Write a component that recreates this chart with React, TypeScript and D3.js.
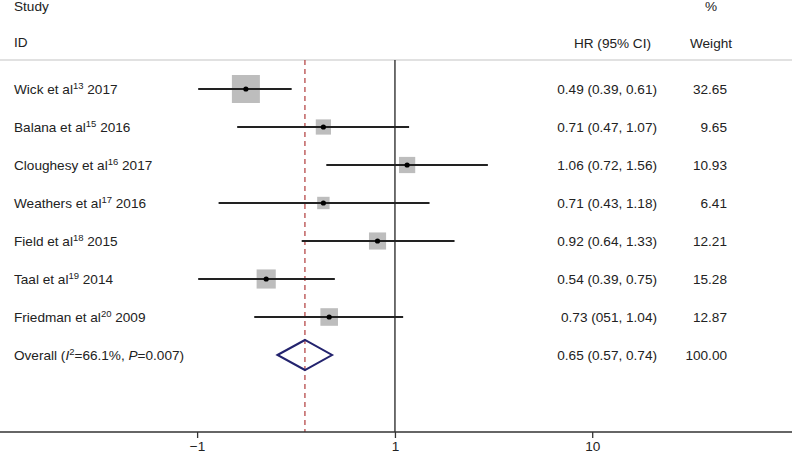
import React, { useEffect, useRef } from "react";
import * as d3 from "d3";

const authors = ["Wick et al", "Balana et al", "Cloughesy et al", "Weathers et al", "Field et al", "Taal et al", "Friedman et al"];
const refs = ["13", "15", "16", "17", "18", "19", "20"];
const years = ["2017", "2016", "2017", "2016", "2015", "2014", "2009"];
const hr = [0.49, 0.71, 1.06, 0.71, 0.92, 0.54, 0.73];
const lower = [0.39, 0.47, 0.72, 0.43, 0.64, 0.39, 0.51];
const upper = [0.61, 1.07, 1.56, 1.18, 1.33, 0.75, 1.04];
const weights = [32.65, 9.65, 10.93, 6.41, 12.21, 15.28, 12.87];
const ciText = ["0.49 (0.39, 0.61)", "0.71 (0.47, 1.07)", "1.06 (0.72, 1.56)", "0.71 (0.43, 1.18)", "0.92 (0.64, 1.33)", "0.54 (0.39, 0.75)", "0.73 (051, 1.04)"];
const weightText = ["32.65", "9.65", "10.93", "6.41", "12.21", "15.28", "12.87"];
const overall = { hr: 0.65, lo: 0.57, hi: 0.74, text: "0.65 (0.57, 0.74)", weight: "100.00" };
const tickValues = [0.388, 1, 2.57];
const tickLabels = ["\u22121", "1", "10"];

const W = 794;
const H = 454;
const FONT = "'Liberation Sans', Arial, sans-serif";
const FS = 13.6;
const SUP = 9.5;

export default function App() {
  const ref = useRef<SVGSVGElement | null>(null);

  useEffect(() => {
    const svg = d3.select(ref.current);
    svg.selectAll("*").remove();

    const x = d3.scaleLog().domain([Math.exp(-1.89), Math.exp(1.9)]).range([0, 792]);
    const y = d3.scaleLinear().domain([0, 7]).range([89, 355]);
    const size = d3.scaleSqrt().domain([0, 32.65]).range([0, 28]);

    const top = 60;
    const axisY = 432;
    const textColor = "#222";

    const hdr = svg.append("g").attr("font-family", FONT).attr("font-size", FS).attr("fill", textColor);
    hdr.append("text").attr("x", 14).attr("y", 6).attr("dy", "0.35em").text("Study");
    hdr.append("text").attr("x", 14).attr("y", 42).attr("dy", "0.35em").text("ID");
    hdr.append("text").attr("x", 651).attr("y", 43).attr("dy", "0.35em").attr("text-anchor", "end").text("HR (95% CI)");
    hdr.append("text").attr("x", 711).attr("y", 43).attr("dy", "0.35em").attr("text-anchor", "middle").text("Weight");
    hdr.append("text").attr("x", 711).attr("y", 6).attr("dy", "0.35em").attr("text-anchor", "middle").text("%");

    svg.append("line").attr("x1", 0).attr("x2", 792).attr("y1", top).attr("y2", top)
      .attr("stroke", "#c4c4c4").attr("stroke-width", 1.2);

    svg.append("line").attr("x1", x(1)).attr("x2", x(1)).attr("y1", top).attr("y2", axisY)
      .attr("stroke", "#222").attr("stroke-width", 1.3);

    svg.append("line").attr("x1", x(overall.hr)).attr("x2", x(overall.hr)).attr("y1", top).attr("y2", axisY)
      .attr("stroke", "#b03a3a").attr("stroke-width", 1.2).attr("stroke-dasharray", "5,4");

    const rows = svg.append("g");
    hr.forEach((v, i) => {
      const cy = y(i);
      const s = size(weights[i]);
      rows.append("rect").attr("x", x(v) - s / 2).attr("y", cy - s / 2).attr("width", s).attr("height", s)
        .attr("fill", "#bdbdbd");
      rows.append("line").attr("x1", x(lower[i])).attr("x2", x(upper[i])).attr("y1", cy).attr("y2", cy)
        .attr("stroke", "#222").attr("stroke-width", 2);
      rows.append("circle").attr("cx", x(v)).attr("cy", cy).attr("r", 2.6).attr("fill", "#000");

      const t = rows.append("text").attr("x", 14).attr("y", cy + 5)
        .attr("font-family", FONT).attr("font-size", FS).attr("fill", textColor);
      t.append("tspan").text(authors[i]);
      t.append("tspan").attr("font-size", SUP).attr("dy", -5).text(refs[i]);
      t.append("tspan").attr("dy", 5).text("\u00a0" + years[i]);

      rows.append("text").attr("x", 657).attr("y", cy).attr("dy", "0.35em").attr("text-anchor", "end")
        .attr("font-family", FONT).attr("font-size", FS).attr("fill", textColor).text(ciText[i]);
      rows.append("text").attr("x", 727).attr("y", cy).attr("dy", "0.35em").attr("text-anchor", "end")
        .attr("font-family", FONT).attr("font-size", FS).attr("fill", textColor).text(weightText[i]);
    });

    const oy = y(7);
    const dh = 15;
    svg.append("path")
      .attr("d", `M${x(overall.lo)},${oy}L${x(overall.hr)},${oy - dh}L${x(overall.hi)},${oy}L${x(overall.hr)},${oy + dh}Z`)
      .attr("fill", "none").attr("stroke", "#23236e").attr("stroke-width", 2);
    const ot = svg.append("text").attr("x", 14).attr("y", oy + 5)
      .attr("font-family", FONT).attr("font-size", FS).attr("fill", textColor);
    ot.append("tspan").text("Overall (");
    ot.append("tspan").attr("font-style", "italic").text("I");
    ot.append("tspan").attr("font-size", SUP).attr("dy", -5).text("2");
    ot.append("tspan").attr("dy", 5).text("=66.1%, ");
    ot.append("tspan").attr("font-style", "italic").text("P");
    ot.append("tspan").text("=0.007)");
    svg.append("text").attr("x", 657).attr("y", oy).attr("dy", "0.35em").attr("text-anchor", "end")
      .attr("font-family", FONT).attr("font-size", FS).attr("fill", textColor).text(overall.text);
    svg.append("text").attr("x", 727).attr("y", oy).attr("dy", "0.35em").attr("text-anchor", "end")
      .attr("font-family", FONT).attr("font-size", FS).attr("fill", textColor).text(overall.weight);

    const axis = d3.axisBottom(x).tickValues(tickValues).tickSize(6).tickSizeOuter(0)
      .tickFormat((_d, i) => tickLabels[i]);
    const ag = svg.append("g").attr("transform", `translate(0,${axisY})`).call(axis);
    ag.select(".domain").remove();
    ag.append("line").attr("x1", 0).attr("x2", 792).attr("y1", 0).attr("y2", 0)
      .attr("stroke", "#333").attr("stroke-width", 1.6);
    ag.selectAll(".tick line").attr("stroke", "#333").attr("stroke-width", 1.3);
    ag.selectAll(".tick text").attr("font-family", FONT).attr("font-size", FS).attr("fill", textColor).attr("y", 9);
  }, []);

  return (
    <svg ref={ref} width={W} height={H} style={{ position: "absolute", left: 0, top: 0, background: "#fff" }} />
  );
}
